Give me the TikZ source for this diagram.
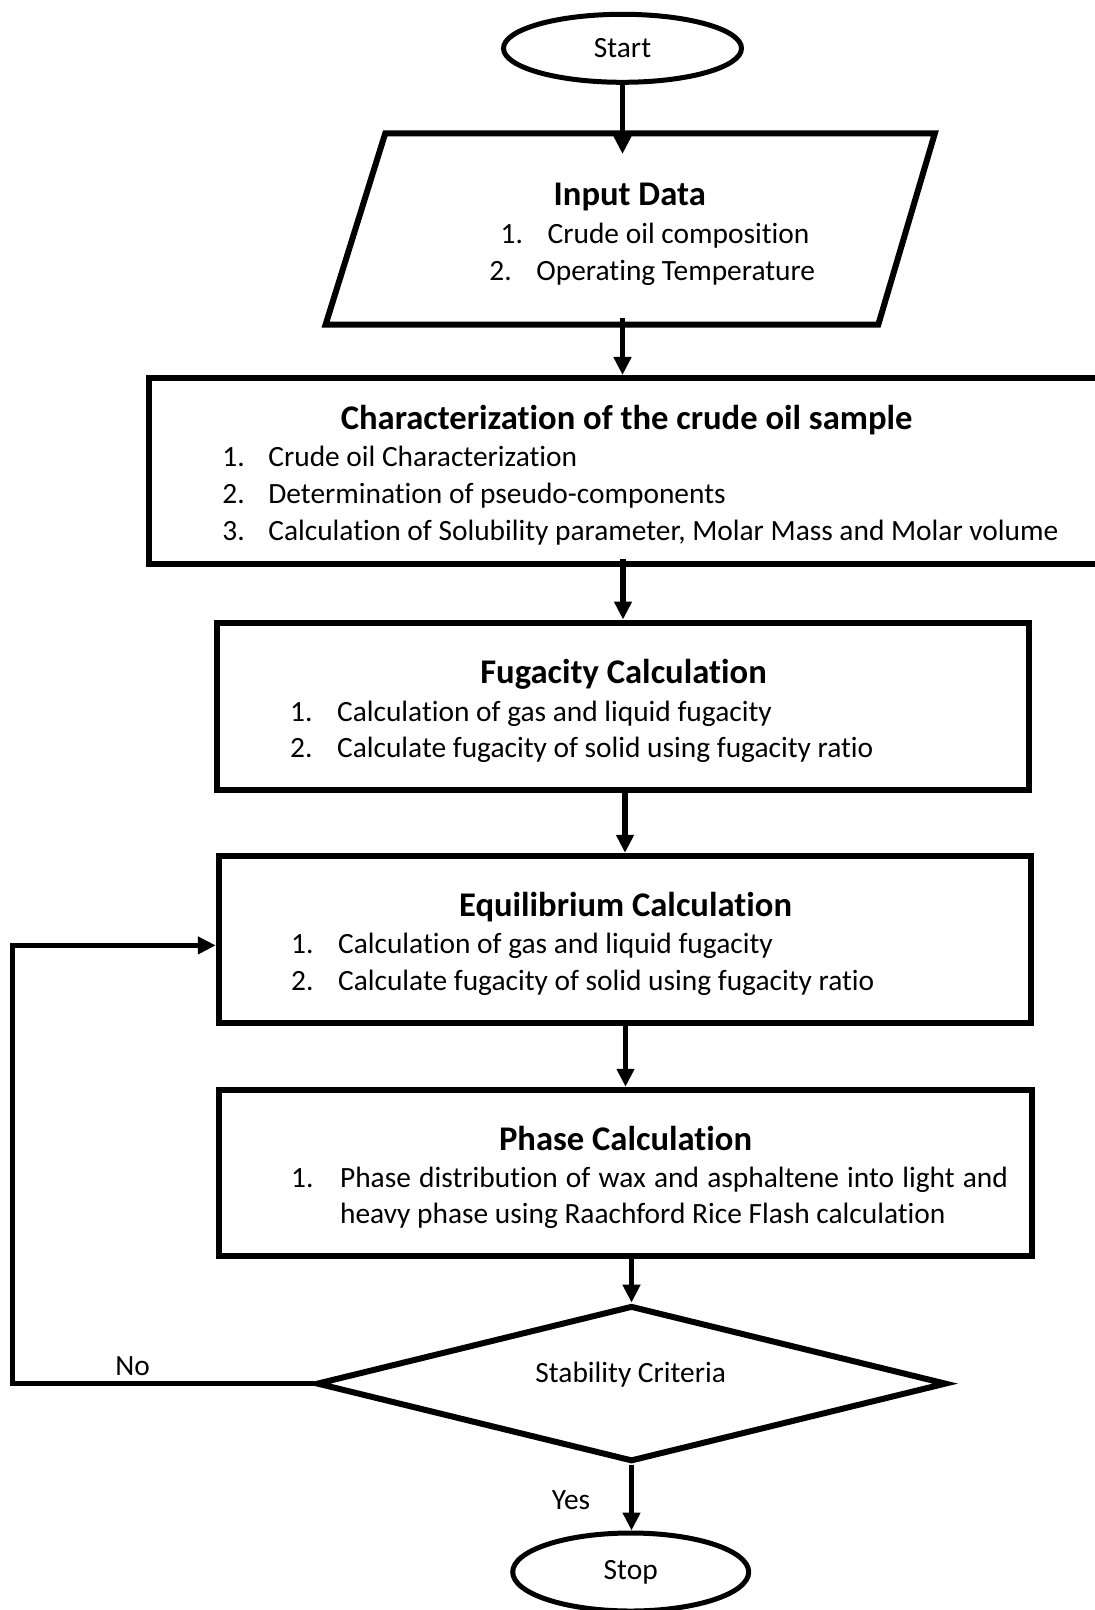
\documentclass[tikz,border=0pt]{standalone}
\usepackage{fontspec}
\setmainfont{Carlito}[Ligatures=NoCommon]
\usetikzlibrary{shapes.geometric,arrows.meta}
\begin{document}
\begin{tikzpicture}[x=0.5pt,y=-0.5pt,
  box/.style={draw,line width=3pt,rectangle,inner sep=0pt},
  term/.style={draw,line width=2.5pt,ellipse,inner sep=0pt,font=\fontsize{14.7}{17}\selectfont},
  ttl/.style={font=\fontsize{17.3}{20}\selectfont\bfseries,inner sep=0pt,anchor=mid},
  itm/.style={font=\fontsize{14.7}{17}\selectfont,inner sep=0pt,anchor=mid west},
  lbl/.style={font=\fontsize{14.7}{17}\selectfont,inner sep=0pt,anchor=mid},
  arr/.style={line width=2.6pt,-{Triangle[length=9pt,width=8.5pt]}}]
\useasboundingbox (0,0) rectangle (1095,1610);
\clip (0,0) rectangle (1095,1610);
\fill[white] (0,0) rectangle (1095,1610);

% Start
\node[term,minimum width=119pt,minimum height=34pt] (start) at (622.5,48.3) {Start};

% Input data (parallelogram)
\coordinate (inTL) at (385.2,133.5);
\coordinate (inTR) at (934.8,133.5);
\coordinate (inBR) at (878.3,324.6);
\coordinate (inBL) at (325.6,324.6);
\draw[line width=3pt,line join=miter] (inBL) -- (inBR) -- (inTR) -- (inTL) -- cycle;
\coordinate (inTop) at (623.5,154);
\coordinate (inBot) at (623.5,318);
\node[ttl] (inT) at (629.7,201) {Input Data};
\node[itm] (in1) at (500.3,238.5) {\makebox[23.5pt][l]{1.}Crude oil composition};
\node[itm] (in2) at (489,275.5) {\makebox[23.5pt][l]{2.}Operating Temperature};

% Characterization
\node[box,minimum width=478pt,minimum height=93pt] (char) at (627,471) {};
\node[ttl] (chT) at (626.6,425) {Characterization of the crude oil sample};
\node[itm] (ch1) at (222,461.5) {\makebox[23pt][l]{1.}Crude oil Characterization};
\node[itm] (ch2) at (222,498.5) {\makebox[23pt][l]{2.}Determination of pseudo-components};
\node[itm] (ch3) at (222,535.5) {\makebox[23pt][l]{3.}Calculation of Solubility parameter, Molar Mass and Molar volume};

% Fugacity
\node[box,minimum width=406.25pt,minimum height=83.75pt] (fug) at (623,706.3) {};
\node[ttl] (fuT) at (623.5,679) {Fugacity Calculation};
\node[itm] (fu1) at (289.7,716.5) {\makebox[23.5pt][l]{1.}Calculation of gas and liquid fugacity};
\node[itm] (fu2) at (289.7,752.5) {\makebox[23.5pt][l]{2.}Calculate fugacity of solid using fugacity ratio};

% Equilibrium
\node[box,minimum width=406.25pt,minimum height=83.6pt] (eq) at (625,939.4) {};
\node[ttl] (eqT) at (625.5,912) {Equilibrium Calculation};
\node[itm] (eq1) at (290.7,948.5) {\makebox[23.5pt][l]{1.}Calculation of gas and liquid fugacity};
\node[itm] (eq2) at (290.7,985.5) {\makebox[23.5pt][l]{2.}Calculate fugacity of solid using fugacity ratio};

% Phase
\node[box,minimum width=406.75pt,minimum height=83.25pt] (phase) at (625.5,1173) {};
\node[ttl] (phT) at (625.5,1146) {Phase Calculation};
\node[itm] (ph1) at (290.7,1182.5) {\makebox[24.5pt][l]{1.}\makebox[334pt][s]{Phase distribution of wax and asphaltene into light and}};
\node[itm] (ph2) at (290.7,1218.5) {\makebox[24.5pt][l]{}heavy phase using Raachford Rice Flash calculation};

% Decision
\node[draw,line width=3pt,diamond,minimum width=315pt,minimum height=78pt,inner sep=0pt] (diam) at (631.5,1383.6) {\phantom{x}};
\node[lbl] (stabT) at (630.7,1377.5) {Stability Criteria};

% Stop
\node[term,minimum width=118pt,minimum height=39pt] (stop) at (630.7,1572) {\raisebox{-1.5pt}{Stop}};

% Connectors
\draw[arr] (start.south) -- (start.south |- inTop);
\draw[arr] (start.south |- inBot) -- (start.south |- char.north);
\draw[arr] ([yshift=4pt]fug.north |- char.south) -- (fug.north);
\draw[arr] (eq.north |- fug.south) -- (eq.north);
\draw[arr] (phase.north |- eq.south) -- (phase.north);
\draw[arr] (diam.north |- phase.south) -- (diam.north);
\draw[arr] (diam.south) -- (diam.south |- stop.north);
\coordinate (loopc) at (12.3,1383.6);
\draw[arr] (diam.west) -- (loopc) |- ([yshift=-3pt]eq.west);

% Labels
\node[lbl] (no) at (132.5,1371) {No};
\node[lbl] (yes) at (571,1505) {Yes};
\end{tikzpicture}
\end{document}
